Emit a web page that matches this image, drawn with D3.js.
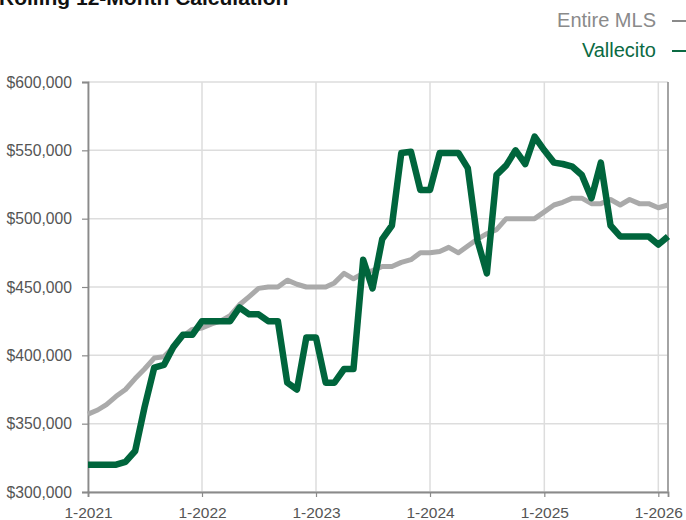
<!DOCTYPE html>
<html>
<head>
<meta charset="utf-8">
<script src="https://cdn.jsdelivr.net/npm/d3@7"></script>
<style>
  html, body { margin: 0; padding: 0; background: #fff; }
  svg { display: block; font-family: "Liberation Sans", Arial, Helvetica, sans-serif; }
</style>
</head>
<body>
<div id="chart"></div>
<script>
// Monthly points, Jan 2021 .. Feb 2026
const months = d3.timeMonth.range(new Date(2021, 0, 1), new Date(2026, 2, 1));

const entireMls = [
  357000, 360000, 364000, 370000, 375000, 383000, 390000, 398000, 399000, 406000, 414000, 419000,
  420000, 423000, 425000, 429000, 437000, 443000, 449000, 450000, 450000, 455000, 452000, 450000,
  450000, 450000, 453000, 460000, 456000, 460000, 462000, 465000, 465000, 468000, 470000, 475000,
  475000, 476000, 479000, 475000, 480000, 485000, 489000, 492000, 500000, 500000, 500000, 500000,
  505000, 510000, 512000, 515000, 515000, 511000, 511000, 514000, 510000, 514000, 511000, 511000,
  508000, 510000
];

const vallecito = [
  320000, 320000, 320000, 320000, 322000, 330000, 362000, 391000, 393000, 406000, 415000, 415000,
  425000, 425000, 425000, 425000, 435000, 430000, 430000, 425000, 425000, 380000, 375000, 413000,
  413000, 380000, 380000, 390000, 390000, 470000, 449000, 485000, 495000, 548000, 549000, 521000,
  521000, 548000, 548000, 548000, 537000, 484000, 460000, 532000, 539000, 550000, 540000, 560000,
  550000, 541000, 540000, 538000, 532000, 515000, 541000, 495000, 487000, 487000, 487000, 487000,
  481000, 487000
];

const yTicks = [300000, 350000, 400000, 450000, 500000, 550000, 600000];
const xTicks = [2021, 2022, 2023, 2024, 2025, 2026].map(y => new Date(y, 0, 1));

const seriesList = [
  { name: 'Entire MLS', values: entireMls, color: '#aaaaaa', text: '#8a8a8a', width: 5 },
  { name: 'Vallecito', values: vallecito, color: '#00653c', text: '#0b6a43', width: 6.5 }
];

const width = 686, height = 520;
const margin = { top: 82, right: 18, bottom: 28, left: 88 };
const innerW = width - margin.left - margin.right;
const innerH = height - margin.top - margin.bottom;

const svg = d3.select('#chart').append('svg')
  .attr('width', width)
  .attr('height', height);

// title (clipped at top like the source)
svg.append('text')
  .attr('x', -1)
  .attr('y', 5)
  .attr('font-size', 21)
  .attr('font-weight', 'bold')
  .attr('fill', '#111')
  .text('Rolling 12-Month Calculation');

// legend
seriesList.forEach((s, i) => {
  const y = 27 + i * 30;
  svg.append('text')
    .attr('x', 656)
    .attr('y', y)
    .attr('text-anchor', 'end')
    .attr('font-size', 20)
    .attr('fill', s.text)
    .text(s.name);
  svg.append('line')
    .attr('x1', 672).attr('x2', 686)
    .attr('y1', y - 6).attr('y2', y - 6)
    .attr('stroke', s.text)
    .attr('stroke-width', 2);
});

const g = svg.append('g')
  .attr('transform', `translate(${margin.left},${margin.top})`);

const x = d3.scaleTime()
  .domain([months[0], months[months.length - 1]])
  .range([0, innerW]);

const y = d3.scaleLinear()
  .domain([300000, 600000])
  .range([innerH, 0]);

// grid
g.append('g')
  .selectAll('line')
  .data(yTicks)
  .join('line')
  .attr('x1', 0).attr('x2', innerW)
  .attr('y1', d => y(d)).attr('y2', d => y(d))
  .attr('stroke', '#dddddd')
  .attr('stroke-width', 1.5);

g.append('g')
  .selectAll('line')
  .data(xTicks)
  .join('line')
  .attr('x1', d => x(d)).attr('x2', d => x(d))
  .attr('y1', 0).attr('y2', innerH)
  .attr('stroke', '#dddddd')
  .attr('stroke-width', 1.5);

// axes
const yAxis = g.append('g')
  .call(d3.axisLeft(y)
    .tickValues(yTicks)
    .tickSize(6)
    .tickPadding(10)
    .tickFormat(d => '$' + d3.format(',')(d)));

const xAxis = g.append('g')
  .attr('transform', `translate(0,${innerH})`)
  .call(d3.axisBottom(x)
    .tickValues(xTicks)
    .tickSize(5)
    .tickPadding(10)
    .tickFormat(d3.timeFormat('%-m-%Y')));

[yAxis, xAxis].forEach(ax => {
  ax.select('.domain').attr('stroke', '#8a8a8a').attr('stroke-width', 1.8);
  ax.selectAll('.tick line').attr('stroke', '#8a8a8a').attr('stroke-width', 1.2);
  ax.selectAll('.tick text')
    .attr('fill', '#555')
    .attr('font-family', '"Liberation Sans", Arial, Helvetica, sans-serif');
});
yAxis.selectAll('.tick text').attr('font-size', 15.7);
xAxis.selectAll('.tick text').attr('font-size', 15.5);

// right border
g.append('line')
  .attr('x1', innerW).attr('x2', innerW)
  .attr('y1', 0).attr('y2', innerH)
  .attr('stroke', '#9a9a9a')
  .attr('stroke-width', 1.8);

// series
const line = d3.line()
  .x((d, i) => x(months[i]))
  .y(d => y(d));

seriesList.forEach(s => {
  g.append('path')
    .datum(s.values)
    .attr('fill', 'none')
    .attr('stroke', s.color)
    .attr('stroke-width', s.width)
    .attr('stroke-linejoin', 'round')
    .attr('d', line);
});
</script>
</body>
</html>
